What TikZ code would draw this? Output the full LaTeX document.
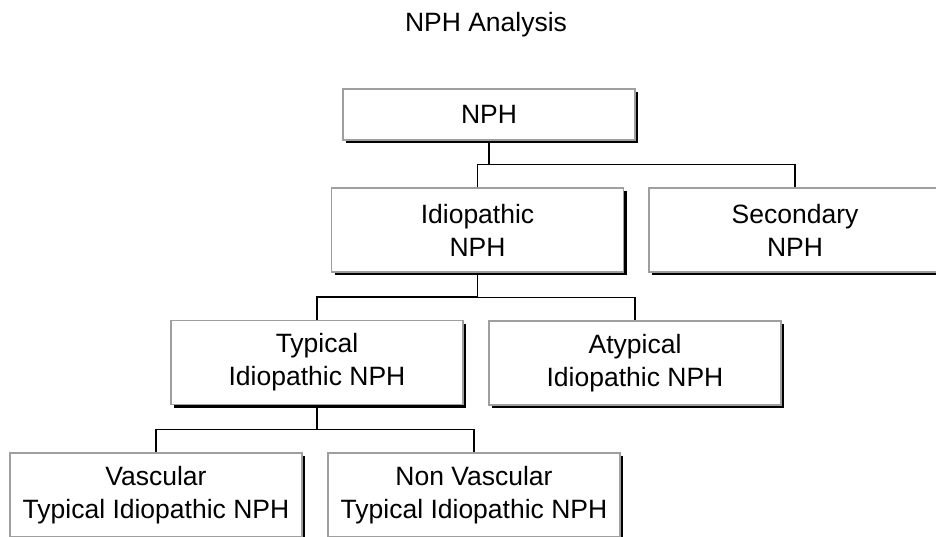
\documentclass[tikz,border=0pt]{standalone}
\usepackage{fontspec}
\setmainfont{Liberation Sans}
\usepackage{tikz}
\usetikzlibrary{calc, shadows}

\begin{document}
\begin{tikzpicture}[
        x=1pt, y=1pt,
        every node/.style={font=\fontsize{26.5}{33}\selectfont},
        box/.style={rectangle, draw=gray!75, line width=1.4pt, fill=white,
            minimum width=292pt, minimum height=84pt, inner sep=0pt, align=center,
            drop shadow={shadow xshift=3pt, shadow yshift=-3pt, fill=black, opacity=1}},
        link/.style={black, line width=1.4pt}
    ]
        \useasboundingbox (0,0) rectangle (936,-536);
        \clip (0,0) rectangle (936,-536);

        % Title
        \node (title) at (486,-25) {NPH Analysis};

        % Boxes
        \node[box, minimum height=51pt] (nph) at (489,-114.5) {NPH};
        \node[box] (idio) at (477.5,-230) {Idiopathic\\NPH};
        \node[box] (sec) at (795,-230) {Secondary\\NPH};
        \node[box] (typ) at (317,-362.5) {Typical\\Idiopathic NPH};
        \node[box] (atyp) at (635,-363) {Atypical\\Idiopathic NPH};
        \node[box] (vasc) at (156,-495) {Vascular\\Typical Idiopathic NPH};
        \node[box] (nonv) at (474,-495) {Non Vascular\\Typical Idiopathic NPH};

        % Connectors
        \foreach \child in {idio, sec}
            \draw[link] (nph.south) |- ($(\child.north)+(0,23)$) -- (\child.north);
        \foreach \child in {typ, atyp}
            \draw[link] (idio.south) |- ($(\child.north)+(0,23)$) -- (\child.north);
        \foreach \child in {vasc, nonv}
            \draw[link] (typ.south) |- ($(\child.north)+(0,23)$) -- (\child.north);
    \end{tikzpicture}
\end{document}
